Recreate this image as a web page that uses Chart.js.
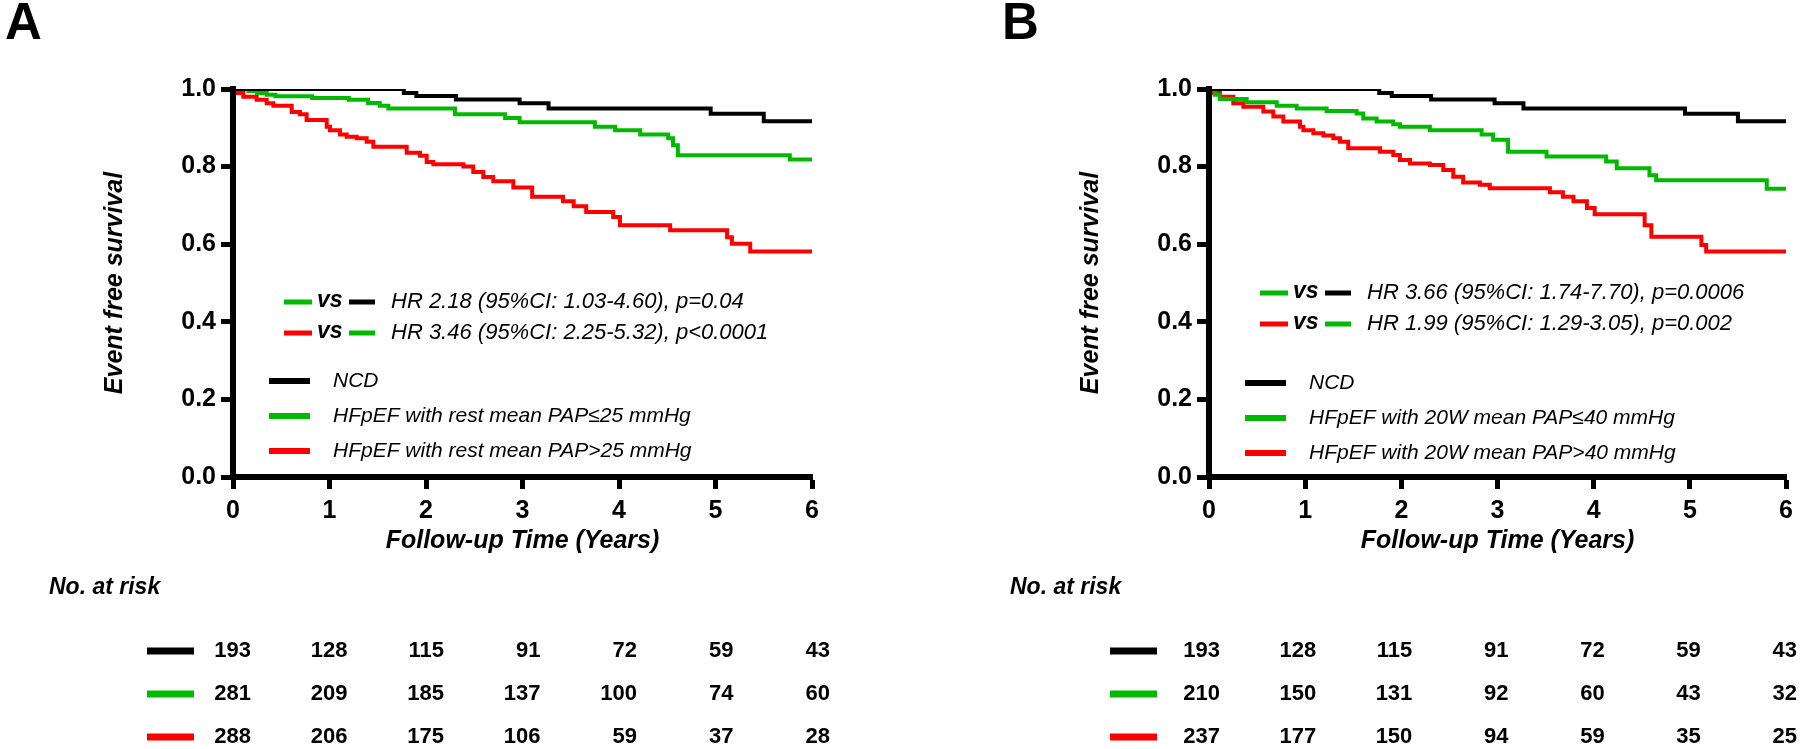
<!DOCTYPE html>
<html>
<head>
<meta charset="utf-8">
<script src="https://cdn.jsdelivr.net/npm/chart.js@4.4.1/dist/chart.umd.min.js"></script>
<style>
  body { margin: 0; background: #fff; width: 1800px; height: 749px; overflow: hidden; }
  canvas { position: absolute; top: 0; }
</style>
</head>
<body>
<canvas id="chartA" width="900" height="749" style="left:0px"></canvas>
<canvas id="chartB" width="900" height="749" style="left:900px"></canvas>
<script>
// ---- data ----
const years = [0, 1, 2, 3, 4, 5, 6];

// NCD group, same cohort in both panels
const ncdTime = [0, 1.77, 1.90, 2.31, 2.97, 3.27, 4.95, 5.50, 6.0];
const ncdSurv = [1.0, 0.990, 0.982, 0.973, 0.963, 0.950, 0.936, 0.917, 0.917];

// panel A: rest mean PAP
const aLowTime = [0, 0.16, 0.25, 0.35, 0.44, 0.82, 1.20, 1.40, 1.52, 1.61, 2.30, 2.82, 2.97, 3.75, 3.96, 4.22, 4.51, 4.56, 4.61, 5.77, 6.0];
const aLowSurv = [1.0, 0.995, 0.990, 0.985, 0.981, 0.977, 0.972, 0.964, 0.957, 0.950, 0.935, 0.925, 0.914, 0.903, 0.894, 0.883, 0.873, 0.855, 0.829, 0.818, 0.818];
const aHighTime = [0, 0.05, 0.107, 0.245, 0.349, 0.418, 0.608, 0.694, 0.763, 0.971, 1.005, 1.109, 1.178, 1.282, 1.385, 1.454, 1.80, 1.938, 2.007, 2.076, 2.387, 2.49, 2.594, 2.697, 2.905, 3.10, 3.42, 3.53, 3.66, 3.94, 4.01, 4.53, 5.12, 5.17, 5.36, 6.0];
const aHighSurv = [1.0, 0.990, 0.980, 0.972, 0.963, 0.957, 0.941, 0.935, 0.920, 0.903, 0.894, 0.883, 0.877, 0.873, 0.864, 0.851, 0.836, 0.828, 0.812, 0.806, 0.800, 0.786, 0.773, 0.762, 0.746, 0.722, 0.711, 0.698, 0.683, 0.670, 0.649, 0.636, 0.618, 0.601, 0.581, 0.581];

// panel B: 20W mean PAP
const bLowTime = [0, 0.062, 0.114, 0.392, 0.704, 0.912, 1.223, 1.535, 1.604, 1.743, 1.916, 1.985, 2.297, 2.835, 2.955, 3.11, 3.51, 4.13, 4.24, 4.58, 4.65, 5.80, 6.0];
const bLowSurv = [1.0, 0.985, 0.974, 0.966, 0.957, 0.950, 0.943, 0.937, 0.924, 0.916, 0.909, 0.903, 0.894, 0.883, 0.869, 0.838, 0.826, 0.813, 0.796, 0.778, 0.765, 0.743, 0.743];
const bHighTime = [0, 0.05, 0.114, 0.253, 0.357, 0.565, 0.669, 0.773, 0.946, 0.981, 1.085, 1.189, 1.293, 1.362, 1.448, 1.778, 1.916, 1.985, 2.09, 2.297, 2.436, 2.54, 2.643, 2.817, 2.92, 3.545, 3.68, 3.79, 3.93, 4.01, 4.53, 4.60, 5.12, 5.17, 6.0];
const bHighSurv = [1.0, 0.990, 0.980, 0.963, 0.954, 0.942, 0.929, 0.916, 0.903, 0.894, 0.886, 0.880, 0.873, 0.864, 0.847, 0.838, 0.830, 0.817, 0.808, 0.804, 0.791, 0.774, 0.759, 0.753, 0.744, 0.734, 0.722, 0.711, 0.693, 0.677, 0.649, 0.619, 0.598, 0.581, 0.581];

// numbers at risk
const riskNcd = [193, 128, 115, 91, 72, 59, 43];
const riskALow = [281, 209, 185, 137, 100, 74, 60];
const riskAHigh = [288, 206, 175, 106, 59, 37, 28];
const riskBLow = [210, 150, 131, 92, 60, 43, 32];
const riskBHigh = [237, 177, 150, 94, 59, 35, 25];

const legendA = ['NCD', 'HFpEF with rest mean PAP\u226425 mmHg', 'HFpEF with rest mean PAP>25 mmHg'];
const legendB = ['NCD', 'HFpEF with 20W mean PAP\u226440 mmHg', 'HFpEF with 20W mean PAP>40 mmHg'];
const hrA = ['HR 2.18 (95%CI: 1.03-4.60), p=0.04', 'HR 3.46 (95%CI: 2.25-5.32), p<0.0001'];
const hrB = ['HR 3.66 (95%CI: 1.74-7.70), p=0.0006', 'HR 1.99 (95%CI: 1.29-3.05), p=0.002'];

const BLACK = '#000000';
const GREEN = '#00b900';
const RED = '#ff0000';
const FONT = "'Liberation Sans', Arial, sans-serif";

Chart.defaults.font.family = FONT;
Chart.defaults.color = '#000';

function points(ts, ss) {
    return ts.map((t, i) => ({ x: t, y: ss[i] }));
}

function curve(ts, ss, color) {
    return {
        data: points(ts, ss),
        borderColor: color,
        borderWidth: 4,
        pointRadius: 0,
        stepped: true,
        fill: false
    };
}

function bar(ctx, x, y, w, h, color) {
    ctx.fillStyle = color;
    ctx.fillRect(x, y - h / 2, w, h);
}

// letter, HR notes, legend and the risk table
function extras(p) {
    return {
        id: 'extras' + p.letter,
        afterDraw(chart) {
            const ctx = chart.ctx;
            const area = chart.chartArea;
            const xs = chart.scales.x;
            ctx.save();
            ctx.textBaseline = 'middle';
            ctx.textAlign = 'left';

            ctx.fillStyle = BLACK;
            ctx.font = 'bold 51px ' + FONT;
            ctx.fillText(p.letter, p.letterX, 25);

            // HR comparisons
            p.hr.forEach((row, i) => {
                const y = p.hrY + i * 31;
                bar(ctx, area.left + 51, y, 28, 5, row.c1);
                ctx.fillStyle = BLACK;
                ctx.font = 'bold italic 23px ' + FONT;
                ctx.fillText('vs', area.left + 84, y - 1);
                bar(ctx, area.left + 116, y, 26, 5, row.c2);
                ctx.fillStyle = BLACK;
                ctx.font = 'italic 22px ' + FONT;
                ctx.fillText(row.text, area.left + 158, y);
            });

            // legend
            p.legend.forEach((txt, i) => {
                const y = p.legY + i * 35;
                bar(ctx, area.left + 36, y, 41, 6, p.colors[i]);
                ctx.fillStyle = BLACK;
                ctx.font = 'italic 21px ' + FONT;
                ctx.fillText(txt, area.left + 100, y);
            });

            // number at risk table
            ctx.font = 'bold italic 23px ' + FONT;
            ctx.fillText('No. at risk', p.riskLabelX, 588);
            p.risk.forEach((row, r) => {
                const y = 651 + r * 43;
                bar(ctx, area.left - p.swatchOff, y, 47, 7, p.colors[r]);
                ctx.fillStyle = BLACK;
                ctx.font = 'bold 22px ' + FONT;
                ctx.textAlign = 'right';
                row.forEach((v, i) => {
                    ctx.fillText(String(v), xs.getPixelForValue(years[i]) + p.colOff, y);
                });
                ctx.textAlign = 'left';
            });
            ctx.restore();
        }
    };
}

function makeChart(id, sets, pad, p) {
    return new Chart(document.getElementById(id), {
        type: 'line',
        data: { datasets: sets },
        options: {
            responsive: false,
            animation: false,
            layout: { padding: pad },
            plugins: { legend: { display: false }, tooltip: { enabled: false } },
            scales: {
                x: {
                    type: 'linear', min: 0, max: 6,
                    afterFit: s => { s.height = 79; },
                    ticks: { stepSize: 1, font: { size: 25, weight: 'bold' }, padding: 7, color: '#000' },
                    grid: { drawOnChartArea: false, drawTicks: true, tickLength: 12, tickWidth: 5, tickColor: '#000' },
                    border: { display: true, width: 6, color: '#000' },
                    title: { display: true, text: 'Follow-up Time (Years)', font: { size: 25, weight: 'bold', style: 'italic' }, padding: 0, color: '#000' }
                },
                y: {
                    min: 0, max: 1,
                    afterFit: s => { s.width = 133; },
                    ticks: { stepSize: 0.2, font: { size: 25, weight: 'bold' }, padding: 5, color: '#000',
                        callback: v => v.toFixed(1) },
                    grid: { drawOnChartArea: false, drawTicks: true, tickLength: 12, tickWidth: 5, tickColor: '#000' },
                    border: { display: true, width: 6, color: '#000' },
                    title: { display: true, text: 'Event free survival', font: { size: 25, weight: 'bold', style: 'italic' }, padding: 0, color: '#000' }
                }
            }
        },
        plugins: [extras(p)]
    });
}

makeChart('chartA', [
    curve(ncdTime, ncdSurv, BLACK),
    curve(aLowTime, aLowSurv, GREEN),
    curve(aHighTime, aHighSurv, RED)
], { left: 100, right: 88, top: 89, bottom: 193 }, {
    letter: 'A', letterX: 5,
    hr: [{ c1: GREEN, c2: BLACK, text: hrA[0] }, { c1: RED, c2: GREEN, text: hrA[1] }],
    hrY: 302,
    legend: legendA, legY: 381,
    colors: [BLACK, GREEN, RED],
    risk: [riskNcd, riskALow, riskAHigh],
    riskLabelX: 49, swatchOff: 86, colOff: 18
});

makeChart('chartB', [
    curve(ncdTime, ncdSurv, BLACK),
    curve(bLowTime, bLowSurv, GREEN),
    curve(bHighTime, bHighSurv, RED)
], { left: 176, right: 14, top: 89, bottom: 193 }, {
    letter: 'B', letterX: 102,
    hr: [{ c1: GREEN, c2: BLACK, text: hrB[0] }, { c1: RED, c2: GREEN, text: hrB[1] }],
    hrY: 293,
    legend: legendB, legY: 383,
    colors: [BLACK, GREEN, RED],
    risk: [riskNcd, riskBLow, riskBHigh],
    riskLabelX: 110, swatchOff: 99, colOff: 11
});
</script>
</body>
</html>
